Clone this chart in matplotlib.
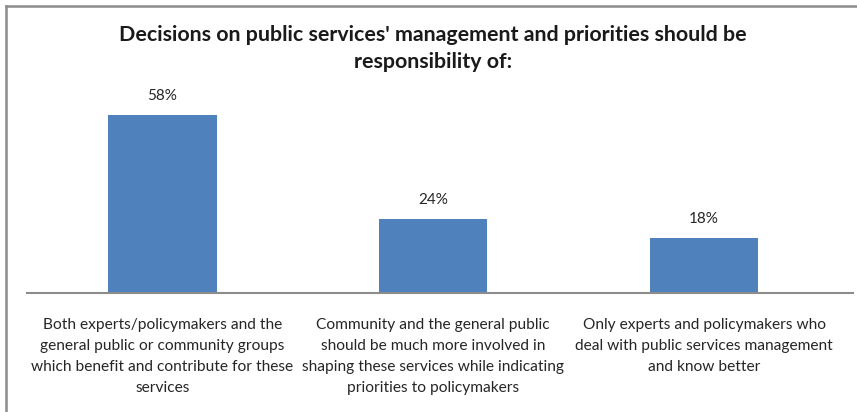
import matplotlib
matplotlib.use('Agg')
import matplotlib.pyplot as plt
from matplotlib.lines import Line2D

plt.rcParams['font.family'] = ['Lato', 'DejaVu Sans']

categories = [
    "Both experts/policymakers and the\ngeneral public or community groups\nwhich benefit and contribute for these\nservices",
    "Community and the general public\nshould be much more involved in\nshaping these services while indicating\npriorities to policymakers",
    "Only experts and policymakers who\ndeal with public services management\nand know better",
]
values = [58, 24, 18]
title = "Decisions on public services' management and priorities should be\nresponsibility of:"

fig = plt.figure(figsize=(8.57, 4.12), dpi=100)
ax = fig.add_axes([27 / 857, 1 - 293 / 412, (853 - 27) / 857, (293 - 100) / 412])

x = range(len(values))
bars = ax.bar(x, values, width=0.4, color='#4F81BD')
for b, v in zip(bars, values):
    ax.text(b.get_x() + b.get_width() / 2, v + 4.0, f"{v}%", ha='center', va='bottom',
            fontsize=11, color='#262626')

ax.set_xlim(-0.5, 2.55)
ax.set_ylim(0, 63)
ax.set_yticks([])
ax.set_xticks(list(x))
ax.set_xticklabels(categories, fontsize=11.15, color='#262626', linespacing=1.65)
ax.tick_params(axis='x', length=0, pad=18)
for s in ['top', 'right', 'left']:
    ax.spines[s].set_visible(False)
ax.spines['bottom'].set_color('#8C8C8C')
ax.spines['bottom'].set_linewidth(1.5)

fig.text(433 / 857, 1 - 48.5 / 412, title, ha='center', va='center', fontsize=15.4,
         fontweight='bold', color='#1a1a1a', linespacing=1.39)

# outer chart border (only top and left show in the crop)
fig.add_artist(Line2D([5.5 / 857, 1], [1 - 5.5 / 412, 1 - 5.5 / 412], color='#8C8C8C', lw=1.8))
fig.add_artist(Line2D([5.5 / 857, 5.5 / 857], [0, 1 - 5.5 / 412], color='#8C8C8C', lw=1.8))

fig.savefig('out.png', dpi=100, facecolor='white')
